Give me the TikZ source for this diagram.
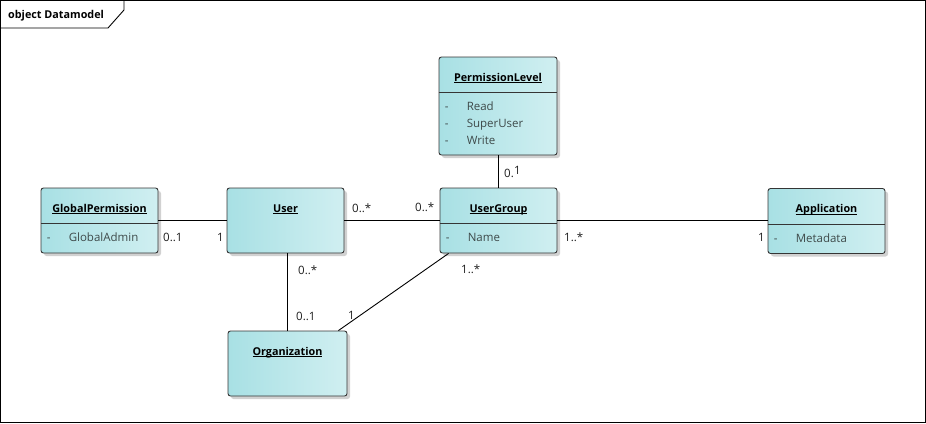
\documentclass[tikz,border=0pt]{standalone}
\usepackage{fontspec}
\setmainfont{Open Sans}
\usepackage{tikz}
\usetikzlibrary{shapes,shadows,calc}

\definecolor{objleft}{HTML}{A8E0E4}
\definecolor{objright}{HTML}{D0EFF1}
\definecolor{objline}{HTML}{353535}
\definecolor{attrgray}{HTML}{3E4A4A}
\definecolor{multgray}{HTML}{1E1E1E}

\begin{document}
\begin{tikzpicture}[x=1pt,y=-1pt,
  obj/.style={draw=objline, line width=0.9pt, rounded corners=2.5pt,
    left color=objleft, right color=objright,
    minimum width=117, minimum height=65, inner sep=0pt,
    drop shadow={shadow xshift=3pt, shadow yshift=-3pt, fill=black!30, opacity=0.6}},
  objname/.style={anchor=base, font=\bfseries\fontsize{10.8}{13}\selectfont},
  attr/.style={anchor=base west, text=attrgray, inner sep=0pt, font=\fontsize{11.5}{13}\selectfont},
  mult/.style={anchor=base west, text=multgray, inner sep=0pt, font=\fontsize{11.5}{13}\selectfont},
  assoc/.style={line width=0.9pt, draw=black}]
\useasboundingbox (0,0) rectangle (926,423);

% object title underlined, baseline below top edge
\newcommand{\objtitle}[2]{
  \node[objname] (#1-name) at ($(#1.north)+(0,24.5)$) {\underline{\smash{#2}}};
}
% separator line and attribute rows
\newcommand{\objattrs}[3]{
  \draw[line width=0.9pt, draw=objline] ($(#1.north west)+(0,#2)$) -- ($(#1.north east)+(0,#2)$);
  \foreach \a [count=\i] in {#3} {
    \node[attr] at ($(#1.north west)+(6,#2+18+17*\i-17)$) {-};
    \node[attr] at ($(#1.north west)+(28,#2+18+17*\i-17)$) {\a};
  }
}

% frame
\draw[line width=0.9pt] (0.5,0.5) rectangle (925,422);
\draw[line width=0.9pt] (0.5,28) -- (108,28) -- (124,10) -- (124,0.5);
\node[anchor=base west, inner sep=0pt, font=\bfseries\fontsize{10.8}{13}\selectfont] (frametitle) at (8,18) {object Datamodel};

% objects
\node[obj, minimum width=118, minimum height=98] (perm) at (498,106) {};
\node[obj] (gperm) at (99.5,220.5) {};
\node[obj] (user) at (285.5,220.5) {};
\node[obj] (ugroup) at (498.5,220.5) {};
\node[obj] (app) at (826.5,221) {};
\node[obj, minimum width=119] (org) at (287.5,363.5) {};

\objtitle{perm}{PermissionLevel}
\objattrs{perm}{36}{Read,SuperUser,Write}
\objtitle{gperm}{GlobalPermission}
\objattrs{gperm}{36}{GlobalAdmin}
\objtitle{user}{User}
\objtitle{ugroup}{UserGroup}
\objattrs{ugroup}{36}{Name}
\objtitle{app}{Application}
\objattrs{app}{36}{Metadata}
\objtitle{org}{Organization}

% associations
\draw[assoc] (gperm) -- (gperm -| user.west);
\draw[assoc] (user.east |- ugroup) -- (ugroup);
\draw[assoc] (perm) -- (perm |- ugroup.north);
\draw[assoc] (ugroup) -- (ugroup -| app.west);
\draw[assoc] (user.south -| org) -- (org);
\draw[assoc] ($(ugroup.south west)+(9,0)$) -- ($(org.north east)+(-9,0)$);

% multiplicities
\node[mult] (m1) at (163,241) {0..1};
\node[mult] (m2) at (217,241) {1};
\node[mult] (m3) at (352,212) {0..*};
\node[mult] (m4) at (415,211) {0..*};
\node[mult] (m5) at (504,177) {0.};
\node[mult] (m6) at (514,174) {1};
\node[mult] (m7) at (564,241) {1..*};
\node[mult] (m8) at (758,241) {1};
\node[mult] (m9) at (298,274) {0..*};
\node[mult] (m10) at (296,320) {0..1};
\node[mult] (m11) at (461,273) {1..*};
\node[mult] (m12) at (348,319) {1};
\end{tikzpicture}
\end{document}
